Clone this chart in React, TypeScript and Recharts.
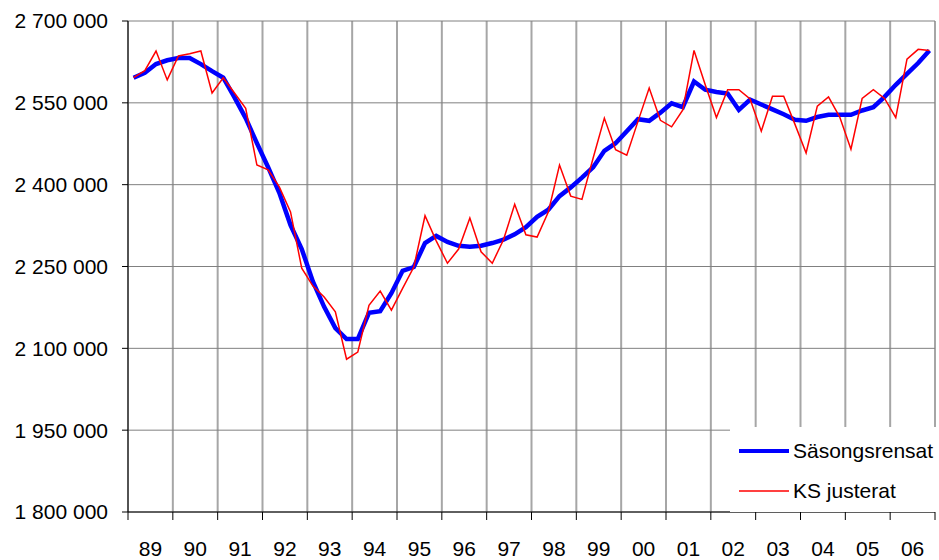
import { LineChart, Line, XAxis, YAxis, CartesianGrid, Legend } from "recharts";

const years = ["89", "90", "91", "92", "93", "94", "95", "96", "97", "98", "99", "00", "01", "02", "03", "04", "05", "06"];

// quarterly values, 1989 Q1 .. 2006 Q4
const sasongsrensat = [
  2596000, 2605000, 2621000, 2628000,
  2632000, 2632000, 2621000, 2608000,
  2596000, 2560000, 2522000, 2476000,
  2432000, 2385000, 2326000, 2282000,
  2222000, 2176000, 2137000, 2117000,
  2117000, 2165000, 2168000, 2201000,
  2242000, 2249000, 2293000, 2306000,
  2295000, 2288000, 2286000, 2288000,
  2293000, 2299000, 2309000, 2322000,
  2341000, 2354000, 2379000, 2395000,
  2413000, 2432000, 2462000, 2476000,
  2498000, 2520000, 2517000, 2532000,
  2549000, 2542000, 2589000, 2574000,
  2570000, 2567000, 2537000, 2556000,
  2547000, 2538000, 2529000, 2519000,
  2517000, 2524000, 2528000, 2528000,
  2528000, 2536000, 2542000, 2561000,
  2583000, 2603000, 2623000, 2646000,
];

const ksJusterat = [
  2596000, 2609000, 2645000, 2592000,
  2636000, 2640000, 2645000, 2568000,
  2596000, 2568000, 2540000, 2436000,
  2427000, 2396000, 2350000, 2247000,
  2214000, 2194000, 2167000, 2080000,
  2093000, 2179000, 2205000, 2170000,
  2210000, 2249000, 2343000, 2297000,
  2256000, 2282000, 2339000, 2277000,
  2256000, 2299000, 2364000, 2308000,
  2304000, 2350000, 2436000, 2379000,
  2373000, 2449000, 2522000, 2464000,
  2454000, 2516000, 2577000, 2518000,
  2506000, 2537000, 2646000, 2583000,
  2523000, 2574000, 2574000, 2557000,
  2498000, 2562000, 2562000, 2511000,
  2458000, 2544000, 2561000, 2524000,
  2465000, 2558000, 2574000, 2558000,
  2523000, 2630000, 2648000, 2646000,
];

const yTicks = [1800000, 1950000, 2100000, 2250000, 2400000, 2550000, 2700000];
const yearTicks = years.map((_, i) => i * 4).concat([years.length * 4]);

const data = sasongsrensat.map((v, i) => ({ q: i + 0.5, sa: v, ks: ksJusterat[i] }));

const FONT = '"Liberation Sans", Arial, sans-serif';

const fmt = (v: number) => String(v).replace(/\B(?=(\d{3})+(?!\d))/g, " ");

function YearTick(props: any) {
  const { x, y, payload } = props;
  const idx = Math.round(payload.value / 4);
  if (idx >= years.length) return null;
  return (
    <text x={x + 22.4} y={y} dy={34} textAnchor="middle" fontSize={21} fontFamily={FONT} fill="#000">
      {years[idx]}
    </text>
  );
}

function LegendBox() {
  return (
    <div style={{ width: 209, height: 85, background: "#fff", fontFamily: FONT, fontSize: 21, color: "#000" }}>
      <div style={{ display: "flex", alignItems: "center", height: 40, paddingTop: 4 }}>
        <svg width={55} height={10} style={{ marginLeft: 8 }}>
          <line x1={1} y1={5} x2={51} y2={5} stroke="#0000ff" strokeWidth={4} />
        </svg>
        <span>Säsongsrensat</span>
      </div>
      <div style={{ display: "flex", alignItems: "center", height: 40 }}>
        <svg width={55} height={10} style={{ marginLeft: 8 }}>
          <line x1={1} y1={5} x2={51} y2={5} stroke="#ff0000" strokeWidth={1.5} />
        </svg>
        <span>KS justerat</span>
      </div>
    </div>
  );
}

export default function App() {
  return (
    <div style={{ position: "absolute", left: 0, top: 0, width: 939, height: 560, background: "#fff" }}>
      <LineChart width={939} height={560} data={data} margin={{ top: 21, right: 4, bottom: 0, left: 0 }}>
        <CartesianGrid horizontal={false} stroke="#a6a6a6" strokeWidth={2} />
        <CartesianGrid vertical={false} stroke="#808080" strokeWidth={1} />
        <XAxis
          dataKey="q"
          type="number"
          domain={[0, 72]}
          ticks={yearTicks}
          interval={0}
          height={48}
          tickSize={8}
          stroke="#000"
          tickLine={{ stroke: "#000" }}
          tick={<YearTick />}
        />
        <YAxis
          type="number"
          domain={[1800000, 2700000]}
          ticks={yTicks}
          interval={0}
          width={128}
          tickSize={6}
          tickMargin={14}
          stroke="#000"
          tickFormatter={fmt}
          tick={{ fontSize: 21, fontFamily: FONT, fill: "#000" }}
        />
        <Legend
          layout="horizontal"
          verticalAlign="middle"
          align="center"
          wrapperStyle={{ position: "absolute", left: 730, top: 427, width: 209, height: 85 }}
          content={() => <LegendBox />}
        />
        <Line
          dataKey="sa"
          stroke="#0000ff"
          strokeWidth={4.5}
          dot={false}
          isAnimationActive={false}
        />
        <Line dataKey="ks" stroke="#ff0000" strokeWidth={1.5} dot={false} isAnimationActive={false} />
      </LineChart>
    </div>
  );
}
